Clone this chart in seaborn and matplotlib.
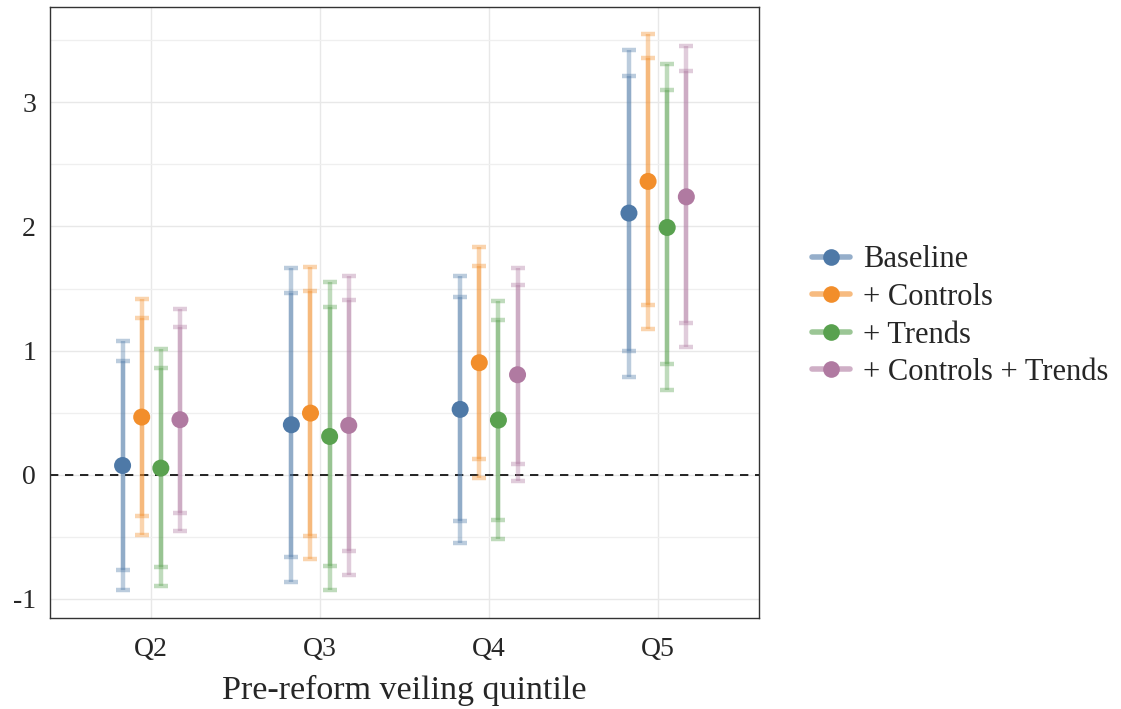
import numpy as np
import pandas as pd
import matplotlib
matplotlib.use("Agg")
import matplotlib.pyplot as plt
from matplotlib.lines import Line2D
from matplotlib.colors import to_rgba
import seaborn as sns

# Data
quintiles = ["Q2", "Q3", "Q4", "Q5"]
models = ["Baseline", "+ Controls", "+ Trends", "+ Controls + Trends"]
colors = ["#4e79a7", "#f28e2b", "#59a14f", "#b07aa1"]

# point estimates, one list per model (Q2..Q5)
est_baseline = [0.075, 0.403, 0.527, 2.108]
est_controls = [0.465, 0.497, 0.903, 2.363]
est_trends = [0.054, 0.309, 0.441, 1.992]
est_both = [0.444, 0.398, 0.806, 2.239]

# inner (90%) interval
lo90_baseline = [-0.77, -0.661, -0.376, 1.000]
hi90_baseline = [0.92, 1.465, 1.430, 3.210]
lo90_controls = [-0.331, -0.492, 0.124, 1.368]
hi90_controls = [1.264, 1.484, 1.685, 3.360]
lo90_trends = [-0.745, -0.731, -0.363, 0.892]
hi90_trends = [0.857, 1.355, 1.247, 3.097]
lo90_both = [-0.309, -0.613, 0.086, 1.220]
hi90_both = [1.194, 1.406, 1.530, 3.255]

# outer (95%) interval
lo95_baseline = [-0.93, -0.866, -0.546, 0.788]
hi95_baseline = [1.08, 1.667, 1.605, 3.422]
lo95_controls = [-0.484, -0.680, -0.024, 1.177]
hi95_controls = [1.417, 1.677, 1.836, 3.548]
lo95_trends = [-0.898, -0.930, -0.516, 0.685]
hi95_trends = [1.010, 1.554, 1.400, 3.306]
lo95_both = [-0.449, -0.806, -0.051, 1.027]
hi95_both = [1.336, 1.602, 1.667, 3.452]

rows = []
series = [
    (est_baseline, lo90_baseline, hi90_baseline, lo95_baseline, hi95_baseline),
    (est_controls, lo90_controls, hi90_controls, lo95_controls, hi95_controls),
    (est_trends, lo90_trends, hi90_trends, lo95_trends, hi95_trends),
    (est_both, lo90_both, hi90_both, lo95_both, hi95_both),
]
for m, (est, l90, h90, l95, h95) in zip(models, series):
    for i, q in enumerate(quintiles):
        rows.append(dict(model=m, quintile=q, qi=i, est=est[i],
                         lo90=l90[i], hi90=h90[i], lo95=l95[i], hi95=h95[i]))
df = pd.DataFrame(rows)

# dodge offsets like seaborn's pointplot
offsets = np.linspace(-0.17, 0.17, len(models))
df["x"] = df["qi"] + df["model"].map(dict(zip(models, offsets)))

sns.set_theme(style="whitegrid")
plt.rcParams["font.family"] = ["Liberation Serif", "DejaVu Serif"]
plt.rcParams["axes.unicode_minus"] = False

fig = plt.figure(figsize=(11.21, 7.09), dpi=100)
ax = fig.add_axes([0.0446, 0.1284, 0.6324, 0.8614])

for m, c in zip(models, colors):
    d = df[df["model"] == m]
    ax.errorbar(d["x"], d["est"], yerr=[d["est"] - d["lo95"], d["hi95"] - d["est"]],
                fmt="none", ecolor=c, elinewidth=3.2, capsize=5, capthick=3.2,
                alpha=0.38, zorder=2)
    ax.errorbar(d["x"], d["est"], yerr=[d["est"] - d["lo90"], d["hi90"] - d["est"]],
                fmt="none", ecolor=c, elinewidth=3.2, capsize=5, capthick=3.2,
                alpha=0.38, zorder=2)

sns.scatterplot(data=df, x="x", y="est", hue="model", hue_order=models,
                palette=colors, s=150, linewidth=0, ax=ax, zorder=3, legend=False)

ax.axhline(0, color="black", linestyle=(0, (5, 4)), linewidth=1.2, zorder=1)

ax.set_xlim(-0.6, 3.6)
ax.set_ylim(-1.153, 3.766)
ax.set_xticks(range(len(quintiles)))
ax.set_xticklabels(quintiles)
ax.set_yticks([-1, 0, 1, 2, 3])
ax.set_yticks([-0.5, 0.5, 1.5, 2.5, 3.5], minor=True)
ax.grid(True, which="major", color="#e8e8e8", linewidth=1.0)
ax.grid(True, which="minor", color="#efefef", linewidth=0.9)
ax.set_axisbelow(True)
for s in ax.spines.values():
    s.set_color("#333333")
    s.set_linewidth(1.0)
ax.tick_params(axis="both", which="major", direction="out", length=5, width=1,
               color="#333333", labelsize=20)
ax.tick_params(axis="x", which="major", pad=9)
ax.tick_params(axis="y", which="major", pad=5)
ax.tick_params(axis="both", which="minor", length=0)
ax.set_xlabel("Pre-reform veiling quintile", fontsize=24.5, labelpad=9)
ax.set_ylabel("")

handles = [Line2D([0], [0], color=to_rgba(c, 0.6), lw=4, marker="o",
                  markersize=12, markerfacecolor=c, markeredgewidth=0)
           for c in colors]
ax.legend(handles, models, loc="center left", bbox_to_anchor=(1.058, 0.494),
          frameon=False, fontsize=22, handlelength=1.25, handletextpad=0.4,
          labelspacing=0.28, borderaxespad=0)

fig.savefig("out.png", dpi=100)
